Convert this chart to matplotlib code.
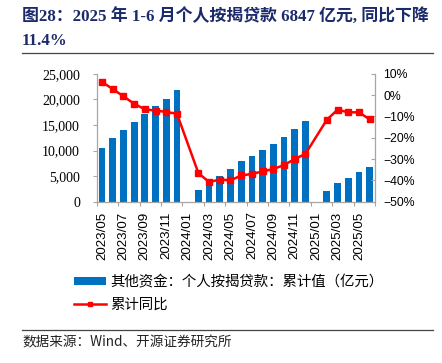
import matplotlib
matplotlib.use("Agg")
import matplotlib.pyplot as plt
from matplotlib.lines import Line2D
from matplotlib.patches import Patch
import numpy as np

# ---- data ----
months = ["2023/05", "2023/06", "2023/07", "2023/08", "2023/09", "2023/10", "2023/11", "2023/12",
          "2024/01", "2024/02", "2024/03", "2024/04", "2024/05", "2024/06", "2024/07", "2024/08",
          "2024/09", "2024/10", "2024/11", "2024/12",
          "2025/01", "2025/02", "2025/03", "2025/04", "2025/05", "2025/06"]
mortgage_cum = [10430, 12500, 14060, 15630, 17130, 18690, 20120, 21810,
                np.nan, 2290, 3710, 5080, 6330, 7890, 8930, 10100,
                11270, 12580, 14140, 15820,
                np.nan, 2090, 3600, 4690, 5800, 6847]
yoy_pct = [6.1, 2.8, -0.6, -4.1, -6.7, -7.3, -7.9, -8.8,
           np.nan, -36.6, -40.8, -39.6, -40.0, -37.7, -37.0, -35.8,
           -34.7, -32.8, -30.0, -27.6,
           np.nan, -11.6, -6.9, -8.1, -8.1, -11.4]
left_ticks = [0, 5000, 10000, 15000, 20000, 25000]
right_ticks = [-50, -40, -30, -20, -10, 0, 10]

title_l1 = "图28：2025 年 1-6 月个人按揭贷款 6847 亿元, 同比下降"
title_l2 = "11.4%"
legend_bar = "其他资金：个人按揭贷款：累计值（亿元）"
legend_line = "累计同比"
source = "数据来源：Wind、开源证券研究所"

# ---- style ----
W, H = 442, 363
fig = plt.figure(figsize=(W / 100, H / 100), dpi=100)
serif_cjk = ["Liberation Serif", "Noto Sans CJK SC"]
sans = ["Liberation Sans", "DejaVu Sans"]
cjk = ["Noto Sans CJK SC", "Liberation Serif"]
axis_grey = "#A6A6A6"
bar_blue = "#0070C0"
navy = "#1B2A6B"

def fx(px):
    return px / W

def fy(py):
    return 1 - py / H

x0, x1 = 96.7, 375.0
y_top, y_bot = 73.7, 201.7
ax = fig.add_axes([fx(x0), fy(y_bot), fx(x1) - fx(x0), fy(y_top) - fy(y_bot)])
ax2 = ax.twinx()

x = np.arange(len(months))
vals = np.array(mortgage_cum, dtype=float)
ax.bar(x, np.nan_to_num(vals), width=0.63, color=bar_blue, zorder=2)

yy = np.array(yoy_pct, dtype=float)
mask = ~np.isnan(yy)
ax2.plot(x[mask], yy[mask], color="#FF0000", lw=1.8, marker="s", ms=4.2,
         markerfacecolor="#FF0000", markeredgecolor="#FF0000", zorder=3)

ax.set_xlim(-0.5, len(months) - 0.5)
ax.set_ylim(0, 25000)
ax2.set_ylim(-50, 10)

ax.set_yticks(left_ticks)
ax.set_yticklabels([f"{v:,}" for v in left_ticks], fontfamily=serif_cjk, fontsize=10)
ax2.set_yticks(right_ticks)
ax2.set_yticklabels([f"{v}%".replace("-", "\u2212") for v in right_ticks],
                    fontfamily=sans, fontsize=8.8)

# x ticks: labels at every 2nd category center, tick marks at boundaries
ax.set_xticks(np.arange(-0.5, len(months), 2.0))
ax.set_xticklabels([])
ax.set_xticks(np.arange(0, len(months), 2), minor=True)
ax.set_xticklabels([months[i] for i in range(0, len(months), 2)], minor=True,
                   rotation=90, fontfamily=sans, fontsize=9.6)
ax.tick_params(axis="x", which="minor", length=0, pad=7)
ax.tick_params(axis="x", which="major", length=3, color=axis_grey, width=0.8, direction="out")
ax.tick_params(axis="y", length=3, color=axis_grey, width=0.8, direction="out", pad=9)
ax2.tick_params(axis="y", length=3, color=axis_grey, width=0.8, direction="in", pad=6)

for a in (ax, ax2):
    a.spines["top"].set_visible(False)
    for s in ("left", "right", "bottom"):
        a.spines[s].set_color(axis_grey)
        a.spines[s].set_linewidth(0.9)
    a.set_facecolor("none")
ax.spines["right"].set_visible(False)
ax2.spines["left"].set_visible(False)
ax2.spines["bottom"].set_visible(False)

# ---- title ----
fig.text(fx(22), fy(17), title_l1, fontfamily=serif_cjk, fontsize=12.2,
         fontweight="bold", color=navy, va="center", ha="left")
fig.text(fx(22), fy(41), title_l2, fontfamily=serif_cjk, fontsize=12.2,
         fontweight="bold", color=navy, va="center", ha="left")
fig.add_artist(Line2D([fx(22), fx(433)], [fy(52.5), fy(52.5)], color="#444444", lw=0.9))

# ---- legend ----
handles = [Patch(facecolor=bar_blue, edgecolor="none"),
           Line2D([0], [0], color="#FF0000", lw=1.8, marker="s", ms=3.5)]
fig.legend(handles, [legend_bar, legend_line], loc="upper left",
           bbox_to_anchor=(fx(74), fy(275)), frameon=False,
           prop={"family": cjk, "size": 10.4}, handlelength=2.2,
           handleheight=0.42, handletextpad=0.3, labelspacing=0.6,
           borderpad=0, borderaxespad=0)

# ---- source ----
fig.add_artist(Line2D([fx(22), fx(433)], [fy(330), fy(330)], color="#444444", lw=0.9))
fig.text(fx(22), fy(342), source, fontfamily=cjk, fontsize=9.8, color="#222222",
         va="center", ha="left")

fig.savefig("out.png", dpi=100)
